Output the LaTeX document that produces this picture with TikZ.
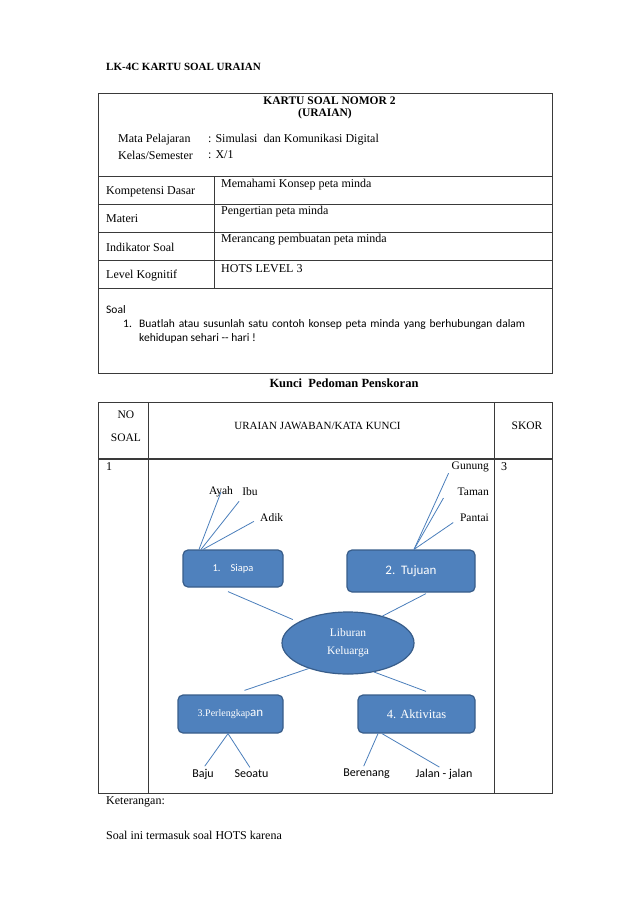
\documentclass[tikz,border=0pt]{standalone}
\usepackage{fontspec}
\setmainfont{Liberation Serif}
\newfontfamily\calibri{Carlito}
\usetikzlibrary{positioning,shapes.geometric}
\definecolor{mapfill}{HTML}{4F81BD}
\definecolor{mapdraw}{HTML}{385D8A}
\definecolor{mapline}{HTML}{4A7EBB}
\definecolor{rulecol}{HTML}{3A3A3A}

\begin{document}
\begin{tikzpicture}[
  x=1pt, y=-1pt,
  txt/.style={inner sep=0pt, anchor=west, font=\fontsize{12}{14}\selectfont},
  ctr/.style={inner sep=0pt, font=\fontsize{11.5}{13}\selectfont},
  hd/.style={inner sep=0pt, font=\fontsize{11.5}{13}\selectfont\bfseries},
  grid/.style={draw=rulecol, line width=0.9pt},
  topic/.style={draw=mapdraw, line width=1.2pt, fill=mapfill, rounded corners=5pt, text=white, inner sep=0pt},
  hubnode/.style={ellipse, draw=mapdraw, line width=1.2pt, fill=mapfill, text=white, inner sep=0pt, minimum width=132pt, minimum height=62pt, align=center, font=\fontsize{11.5}{13}\selectfont},
  leaf/.style={inner sep=0pt, font=\fontsize{11.5}{13}\selectfont},
  sleaf/.style={inner sep=0pt, font=\calibri\fontsize{12}{14}\selectfont},
  branch/.style={draw=mapline, line width=0.8pt}
]
\useasboundingbox (0,0) rectangle (638,903);

\node[hd, anchor=west, font=\fontsize{11}{13}\selectfont\bfseries] (title) at (106,67) {LK-4C KARTU SOAL URAIAN};

% kartu soal
\draw[grid] (98,93) rectangle (552,373);
\foreach \y in {176,204,232,260,288}
  \draw[grid] (98,\y) -- (552,\y);
\draw[grid] (214,176) -- (214,288);

\node[hd] (nomor) at (329.5,101) {KARTU SOAL NOMOR 2};
\node[hd] (jenis) at (325,114) {(URAIAN)};
\node[txt] (mapel) at (118,140) {Mata Pelajaran};
\node[txt] (kelas) at (118,155) {Kelas/Semester};
\node[txt] (mapelisi) at (208,140) {: Simulasi\ \ dan Komunikasi Digital};
\node[txt] (kelasisi) at (208,155) {: X/1};

\foreach \i/\y/\a/\b in {1/192/Kompetensi Dasar/Memahami Konsep peta minda,
                        2/219/Materi/Pengertian peta minda,
                        3/247/Indikator Soal/Merancang pembuatan\ peta minda,
                        4/276/Level Kognitif/HOTS LEVEL 3}{
  \node[txt] (label\i) at (106,\y) {\a};
  \node[txt] (isi\i) at (221,\y-7) {\b};
}

\node[txt, font=\calibri\fontsize{11.5}{13}\selectfont] (soal) at (106,310) {Soal};
\node[txt, font=\calibri\fontsize{11.5}{13}\selectfont] (nomor1) at (123,324) {1.};
\node[txt, font=\calibri\fontsize{11.5}{13}\selectfont] (soal1) at (139,324)
  {\hbox to 386pt{Buatlah atau susunlah satu contoh konsep peta minda yang berhubungan dalam}};
\node[txt, font=\calibri\fontsize{11.5}{13}\selectfont] (soal2) at (139,338) {kehidupan sehari -- hari !};

\node[hd, font=\fontsize{12.5}{14}\selectfont\bfseries] (kunci) at (344,383) {Kunci\ \ Pedoman Penskoran};

% pedoman penskoran
\draw[grid] (98,402) rectangle (552,793);
\draw[grid, line width=1.6pt] (98,459) -- (552,459);
\draw[grid] (148,402) -- (148,793);
\draw[grid] (494,402) -- (494,793);

\node[ctr] (no) at (126,415) {NO};
\node[ctr] (soalhd) at (126,438) {SOAL};
\node[ctr, font=\fontsize{11}{13}\selectfont] (uraian) at (317.5,426) {URAIAN JAWABAN/KATA KUNCI};
\node[ctr] (skor) at (527,426) {SKOR};
\node[txt] (no1) at (106,467) {1};
\node[txt] (skor1) at (501,467) {3};

% peta minda
\node[topic, minimum width=100pt, minimum height=37pt] (siapa) at (233,568.5)
  {\calibri\fontsize{10.5}{12}\selectfont 1.\hspace{10pt}Siapa};
\node[topic, minimum width=128pt, minimum height=42pt] (tujuan) at (411,571)
  {\calibri\fontsize{13}{15}\selectfont 2.\ \ Tujuan};
\node[hubnode] (hub) at (348,643) {Liburan\\[5pt]Keluarga};
\node[topic, minimum width=105pt, minimum height=38pt] (alat) at (230.5,714)
  {{\fontsize{10}{11}\selectfont 3.Perlengkap}{\calibri\fontsize{13}{15}\selectfont an}};
\node[topic, minimum width=117pt, minimum height=38pt] (aktivitas) at (416.5,714)
  {\fontsize{12.5}{15}\selectfont 4. Aktivitas};

\node[leaf] (ayah) at (221,492) {Ayah};
\node[leaf, right=9pt of ayah] (ibu) {Ibu};
\node[leaf, anchor=west] (adik) at (260,518) {Adik};
\node[leaf, anchor=east] (gunung) at (489,467) {Gunung};
\node[leaf, anchor=east] (taman) at (489,492) {Taman};
\node[leaf, anchor=east] (pantai) at (489,518) {Pantai};
\node[sleaf] (baju) at (203,774) {Baju};
\node[sleaf] (seoatu) at (251.5,774) {Seoatu};
\node[sleaf] (berenang) at (366.5,774) {Berenang};
\node[sleaf] (jalan) at (444,774) {Jalan - jalan};

\draw[branch] ([xshift=-34pt]siapa.north) -- (ayah.center);
\draw[branch] ([xshift=-32pt]siapa.north) -- ([shift={(-3,5)}]ibu.south west);
\draw[branch, shorten >=7pt] ([xshift=-30pt]siapa.north) -- (adik.west);
\draw[branch] ([xshift=3pt]tujuan.north) -- ([shift={(-3,1)}]gunung.south west);
\draw[branch] ([xshift=3pt]tujuan.north) -- ([shift={(-14,2)}]taman.south west);
\draw[branch, shorten >=8pt] ([xshift=3pt]tujuan.north) -- (pantai.west);

\draw[branch, shorten >=6pt] ([shift={(-5,4)}]siapa.south) -- (hub.157);
\draw[branch] ([shift={(15,1)}]tujuan.south) -- (hub.38.5);
\draw[branch] (hub.213) -- ([shift={(14,-4)}]alat.north);
\draw[branch] (hub.312) -- ([shift={(9.5,-3)}]aktivitas.north);

\draw[branch, shorten >=3pt] ([xshift=-2.5pt]alat.south) -- (baju.north);
\draw[branch, shorten >=3pt] ([xshift=-2.5pt]alat.south) -- (seoatu.north);
\draw[branch, shorten >=3pt] ([xshift=-38.5pt]aktivitas.south) -- ([xshift=-4pt]berenang.north);
\draw[branch, shorten >=3pt] ([xshift=-34.5pt]aktivitas.south) -- ([xshift=-2pt]jalan.north);

\node[txt] (ket) at (106,802) {Keterangan:};
\node[txt] (alasan) at (106,835) {Soal ini\ termasuk soal HOTS karena};
\end{tikzpicture}
\end{document}
